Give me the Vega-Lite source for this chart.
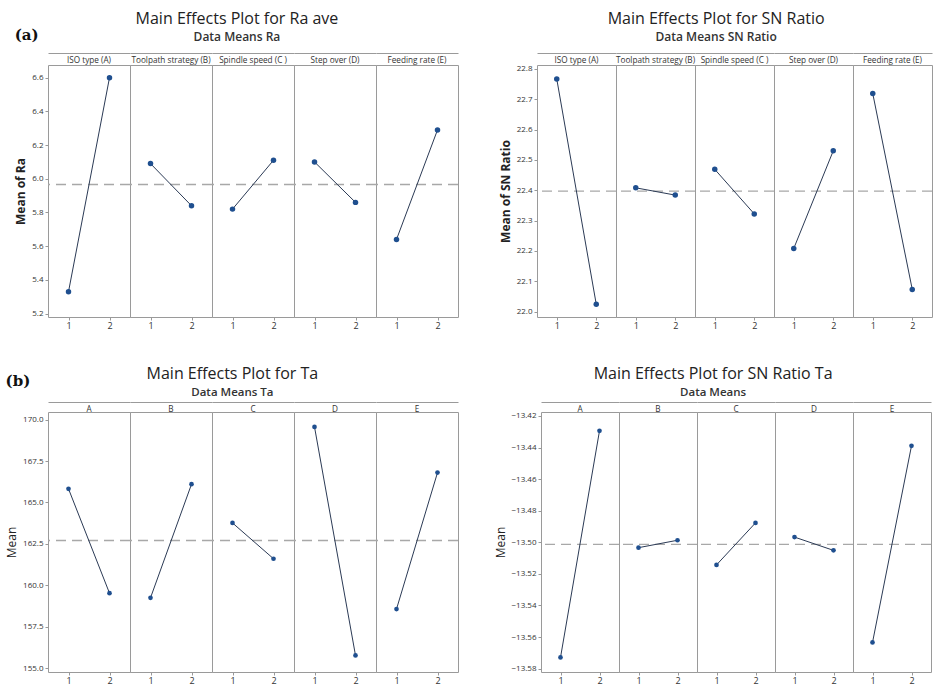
{
  "$schema": "https://vega.github.io/schema/vega-lite/v6.json",
  "background": "white",
  "padding": {"left": 5, "top": 11, "right": 0, "bottom": 0},
  "config": {
    "font": "Open Sans",
    "view": {"stroke": "#9a9a9a", "strokeWidth": 1},
    "axis": {"grid": false, "domain": false, "tickColor": "#999", "tickSize": 3, "labelFontSize": 8, "labelColor": "#333", "labelPadding": 2, "labelOverlap": false},
    "axisX": {"labelAngle": 0, "labelFontSize": 9, "labelPadding": 1},
    "title": {"fontSize": 16, "fontWeight": "normal", "color": "#222", "subtitleFontSize": 12, "subtitleColor": "#333", "subtitleFontWeight": 600, "offset": 10, "anchor": "middle", "subtitlePadding": 5},
    "header": {"labelFontSize": 8.2, "labelColor": "#333", "labelPadding": -12, "title": null}
  },
  "datasets": {
    "ra": [
      {"factor": "ISO type (A)", "level": 1, "value": 5.33, "mean": 5.966},
      {"factor": "ISO type (A)", "level": 2, "value": 6.60, "mean": 5.966},
      {"factor": "Toolpath strategy (B)", "level": 1, "value": 6.09, "mean": 5.966},
      {"factor": "Toolpath strategy (B)", "level": 2, "value": 5.84, "mean": 5.966},
      {"factor": "Spindle speed (C )", "level": 1, "value": 5.82, "mean": 5.966},
      {"factor": "Spindle speed (C )", "level": 2, "value": 6.11, "mean": 5.966},
      {"factor": "Step over (D)", "level": 1, "value": 6.10, "mean": 5.966},
      {"factor": "Step over (D)", "level": 2, "value": 5.86, "mean": 5.966},
      {"factor": "Feeding rate (E)", "level": 1, "value": 5.64, "mean": 5.966},
      {"factor": "Feeding rate (E)", "level": 2, "value": 6.29, "mean": 5.966}
    ],
    "sn": [
      {"factor": "ISO type (A)", "level": 1, "value": 22.767, "mean": 22.397},
      {"factor": "ISO type (A)", "level": 2, "value": 22.024, "mean": 22.397},
      {"factor": "Toolpath strategy (B)", "level": 1, "value": 22.408, "mean": 22.397},
      {"factor": "Toolpath strategy (B)", "level": 2, "value": 22.384, "mean": 22.397},
      {"factor": "Spindle speed (C )", "level": 1, "value": 22.469, "mean": 22.397},
      {"factor": "Spindle speed (C )", "level": 2, "value": 22.322, "mean": 22.397},
      {"factor": "Step over (D)", "level": 1, "value": 22.208, "mean": 22.397},
      {"factor": "Step over (D)", "level": 2, "value": 22.530, "mean": 22.397},
      {"factor": "Feeding rate (E)", "level": 1, "value": 22.719, "mean": 22.397},
      {"factor": "Feeding rate (E)", "level": 2, "value": 22.073, "mean": 22.397}
    ],
    "ta": [
      {"factor": "A", "level": 1, "value": 165.82, "mean": 162.70},
      {"factor": "A", "level": 2, "value": 159.52, "mean": 162.70},
      {"factor": "B", "level": 1, "value": 159.24, "mean": 162.70},
      {"factor": "B", "level": 2, "value": 166.10, "mean": 162.70},
      {"factor": "C", "level": 1, "value": 163.76, "mean": 162.70},
      {"factor": "C", "level": 2, "value": 161.60, "mean": 162.70},
      {"factor": "D", "level": 1, "value": 169.56, "mean": 162.70},
      {"factor": "D", "level": 2, "value": 155.76, "mean": 162.70},
      {"factor": "E", "level": 1, "value": 158.56, "mean": 162.70},
      {"factor": "E", "level": 2, "value": 166.80, "mean": 162.70}
    ],
    "snta": [
      {"factor": "A", "level": 1, "value": -13.5729, "mean": -13.5013},
      {"factor": "A", "level": 2, "value": -13.4294, "mean": -13.5013},
      {"factor": "B", "level": 1, "value": -13.5034, "mean": -13.5013},
      {"factor": "B", "level": 2, "value": -13.4987, "mean": -13.5013},
      {"factor": "C", "level": 1, "value": -13.5143, "mean": -13.5013},
      {"factor": "C", "level": 2, "value": -13.4877, "mean": -13.5013},
      {"factor": "D", "level": 1, "value": -13.4967, "mean": -13.5013},
      {"factor": "D", "level": 2, "value": -13.5051, "mean": -13.5013},
      {"factor": "E", "level": 1, "value": -13.5634, "mean": -13.5013},
      {"factor": "E", "level": 2, "value": -13.4389, "mean": -13.5013}
    ]
  },
  "spacing": 35,
  "vconcat": [
    {
      "title": {"text": "(a)", "anchor": "start", "font": "DejaVu Serif", "fontSize": 15, "fontWeight": "bold", "color": "#111", "dy": 42},
      "spacing": 39,
      "hconcat": [
        {
          "data": {"name": "ra"},
          "title": {"text": "Main Effects Plot for Ra ave", "subtitle": "Data Means Ra"},
          "facet": {"column": {"field": "factor", "type": "nominal", "sort": ["ISO type (A)", "Toolpath strategy (B)", "Spindle speed (C )", "Step over (D)", "Feeding rate (E)"], "header": {"title": null}}},
          "spacing": {"column": 0},
          "bounds": "flush",
          "spec": {
            "width": 82, "height": 252,
            "resolve": {"axis": {"x": "independent"}},
            "layer": [
              {"mark": {"type": "rule", "strokeDash": [10, 6], "color": "#a8a8a8", "strokeWidth": 1.3},
               "encoding": {"y": {"field": "mean", "type": "quantitative", "aggregate": "mean", "title": "Mean of Ra", "scale": {"domain": [5.18, 6.675], "nice": false, "zero": false}, "axis": {"values": [5.2, 5.4, 5.6, 5.8, 6.0, 6.2, 6.4, 6.6], "format": ".1f", "titleFontSize": 12, "titleFontWeight": "bold", "titleColor": "#222"}}}},
              {"mark": {"type": "line", "color": "#2b3a55", "strokeWidth": 1},
               "encoding": {
                 "x": {"field": "level", "type": "ordinal", "scale": {"type": "point", "padding": 0.5}, "title": null},
                 "y": {"field": "value", "type": "quantitative", "title": "Mean of Ra", "scale": {"domain": [5.18, 6.675], "nice": false, "zero": false}, "axis": {"values": [5.2, 5.4, 5.6, 5.8, 6.0, 6.2, 6.4, 6.6], "format": ".1f", "titleFontSize": 12, "titleFontWeight": "bold", "titleColor": "#222"}}}},
              {"mark": {"type": "point", "filled": true, "size": 30, "color": "#1f4f8f", "opacity": 1},
               "encoding": {
                 "x": {"field": "level", "type": "ordinal", "scale": {"type": "point", "padding": 0.5}, "title": null, "axis": {"orient": "top", "labels": false, "ticks": false, "domain": true, "domainColor": "#9a9a9a", "offset": 12}},
                 "y": {"field": "value", "type": "quantitative", "title": "Mean of Ra", "scale": {"domain": [5.18, 6.675], "nice": false, "zero": false}, "axis": {"values": [5.2, 5.4, 5.6, 5.8, 6.0, 6.2, 6.4, 6.6], "format": ".1f", "titleFontSize": 12, "titleFontWeight": "bold", "titleColor": "#222"}}}}
            ]
          }
        },
        {
          "data": {"name": "sn"},
          "title": {"text": "Main Effects Plot for SN Ratio", "subtitle": "Data Means SN Ratio"},
          "facet": {"column": {"field": "factor", "type": "nominal", "sort": ["ISO type (A)", "Toolpath strategy (B)", "Spindle speed (C )", "Step over (D)", "Feeding rate (E)"], "header": {"title": null}}},
          "spacing": {"column": 0},
          "bounds": "flush",
          "spec": {
            "width": 79, "height": 252,
            "resolve": {"axis": {"x": "independent"}},
            "layer": [
              {"mark": {"type": "rule", "strokeDash": [10, 6], "color": "#a8a8a8", "strokeWidth": 1.3},
               "encoding": {"y": {"field": "mean", "type": "quantitative", "aggregate": "mean", "title": "Mean of SN Ratio", "scale": {"domain": [21.982, 22.813], "nice": false, "zero": false}, "axis": {"values": [22.0, 22.1, 22.2, 22.3, 22.4, 22.5, 22.6, 22.7, 22.8], "format": ".1f", "titleFontSize": 12, "titleFontWeight": "bold", "titleColor": "#222"}}}},
              {"mark": {"type": "line", "color": "#2b3a55", "strokeWidth": 1},
               "encoding": {
                 "x": {"field": "level", "type": "ordinal", "scale": {"type": "point", "padding": 0.5}, "title": null},
                 "y": {"field": "value", "type": "quantitative", "title": "Mean of SN Ratio", "scale": {"domain": [21.982, 22.813], "nice": false, "zero": false}, "axis": {"values": [22.0, 22.1, 22.2, 22.3, 22.4, 22.5, 22.6, 22.7, 22.8], "format": ".1f", "titleFontSize": 12, "titleFontWeight": "bold", "titleColor": "#222"}}}},
              {"mark": {"type": "point", "filled": true, "size": 30, "color": "#1f4f8f", "opacity": 1},
               "encoding": {
                 "x": {"field": "level", "type": "ordinal", "scale": {"type": "point", "padding": 0.5}, "title": null, "axis": {"orient": "top", "labels": false, "ticks": false, "domain": true, "domainColor": "#9a9a9a", "offset": 12}},
                 "y": {"field": "value", "type": "quantitative", "title": "Mean of SN Ratio", "scale": {"domain": [21.982, 22.813], "nice": false, "zero": false}, "axis": {"values": [22.0, 22.1, 22.2, 22.3, 22.4, 22.5, 22.6, 22.7, 22.8], "format": ".1f", "titleFontSize": 12, "titleFontWeight": "bold", "titleColor": "#222"}}}}
            ]
          }
        }
      ]
    },
    {
      "title": {"text": "(b)", "anchor": "start", "font": "DejaVu Serif", "fontSize": 15, "fontWeight": "bold", "color": "#111", "dy": 33},
      "spacing": 34,
      "hconcat": [
        {
          "data": {"name": "ta"},
          "title": {"text": "Main Effects Plot for Ta", "subtitle": "Data Means Ta", "subtitlePadding": 5, "subtitleFontSize": 11.5, "offset": 4},
          "facet": {"column": {"field": "factor", "type": "nominal", "sort": ["A", "B", "C", "D", "E"], "header": {"title": null}}},
          "spacing": {"column": 0},
          "bounds": "flush",
          "spec": {
            "width": 82, "height": 260,
            "resolve": {"axis": {"x": "independent"}},
            "layer": [
              {"mark": {"type": "rule", "strokeDash": [10, 6], "color": "#a8a8a8", "strokeWidth": 1.3},
               "encoding": {"y": {"field": "mean", "type": "quantitative", "aggregate": "mean", "title": "Mean", "scale": {"domain": [154.76, 170.46], "nice": false, "zero": false}, "axis": {"values": [155, 157.5, 160, 162.5, 165, 167.5, 170], "format": ".1f", "titleFontSize": 12, "titleFontWeight": "normal", "titleColor": "#222"}}}},
              {"mark": {"type": "line", "color": "#2b3a55", "strokeWidth": 1},
               "encoding": {
                 "x": {"field": "level", "type": "ordinal", "scale": {"type": "point", "padding": 0.5}, "title": null},
                 "y": {"field": "value", "type": "quantitative", "title": "Mean", "scale": {"domain": [154.76, 170.46], "nice": false, "zero": false}, "axis": {"values": [155, 157.5, 160, 162.5, 165, 167.5, 170], "format": ".1f", "titleFontSize": 12, "titleFontWeight": "normal", "titleColor": "#222"}}}},
              {"mark": {"type": "point", "filled": true, "size": 22, "color": "#1f4f8f", "opacity": 1},
               "encoding": {
                 "x": {"field": "level", "type": "ordinal", "scale": {"type": "point", "padding": 0.5}, "title": null, "axis": {"orient": "top", "labels": false, "ticks": false, "domain": true, "domainColor": "#9a9a9a", "offset": 10}},
                 "y": {"field": "value", "type": "quantitative", "title": "Mean", "scale": {"domain": [154.76, 170.46], "nice": false, "zero": false}, "axis": {"values": [155, 157.5, 160, 162.5, 165, 167.5, 170], "format": ".1f", "titleFontSize": 12, "titleFontWeight": "normal", "titleColor": "#222"}}}}
            ]
          }
        },
        {
          "data": {"name": "snta"},
          "title": {"text": "Main Effects Plot for SN Ratio Ta", "subtitle": "Data Means", "subtitlePadding": 5, "subtitleFontSize": 11.5, "offset": 4},
          "facet": {"column": {"field": "factor", "type": "nominal", "sort": ["A", "B", "C", "D", "E"], "header": {"title": null}}},
          "spacing": {"column": 0},
          "bounds": "flush",
          "spec": {
            "width": 78, "height": 260,
            "resolve": {"axis": {"x": "independent"}},
            "layer": [
              {"mark": {"type": "rule", "strokeDash": [10, 6], "color": "#a8a8a8", "strokeWidth": 1.3},
               "encoding": {"y": {"field": "mean", "type": "quantitative", "aggregate": "mean", "title": "Mean", "scale": {"domain": [-13.5821, -13.4175], "nice": false, "zero": false}, "axis": {"values": [-13.58, -13.56, -13.54, -13.52, -13.5, -13.48, -13.46, -13.44, -13.42], "format": ".2f", "titleFontSize": 12, "titleFontWeight": "normal", "titleColor": "#222"}}}},
              {"mark": {"type": "line", "color": "#2b3a55", "strokeWidth": 1},
               "encoding": {
                 "x": {"field": "level", "type": "ordinal", "scale": {"type": "point", "padding": 0.5}, "title": null},
                 "y": {"field": "value", "type": "quantitative", "title": "Mean", "scale": {"domain": [-13.5821, -13.4175], "nice": false, "zero": false}, "axis": {"values": [-13.58, -13.56, -13.54, -13.52, -13.5, -13.48, -13.46, -13.44, -13.42], "format": ".2f", "titleFontSize": 12, "titleFontWeight": "normal", "titleColor": "#222"}}}},
              {"mark": {"type": "point", "filled": true, "size": 22, "color": "#1f4f8f", "opacity": 1},
               "encoding": {
                 "x": {"field": "level", "type": "ordinal", "scale": {"type": "point", "padding": 0.5}, "title": null, "axis": {"orient": "top", "labels": false, "ticks": false, "domain": true, "domainColor": "#9a9a9a", "offset": 10}},
                 "y": {"field": "value", "type": "quantitative", "title": "Mean", "scale": {"domain": [-13.5821, -13.4175], "nice": false, "zero": false}, "axis": {"values": [-13.58, -13.56, -13.54, -13.52, -13.5, -13.48, -13.46, -13.44, -13.42], "format": ".2f", "titleFontSize": 12, "titleFontWeight": "normal", "titleColor": "#222"}}}}
            ]
          }
        }
      ]
    }
  ]
}
